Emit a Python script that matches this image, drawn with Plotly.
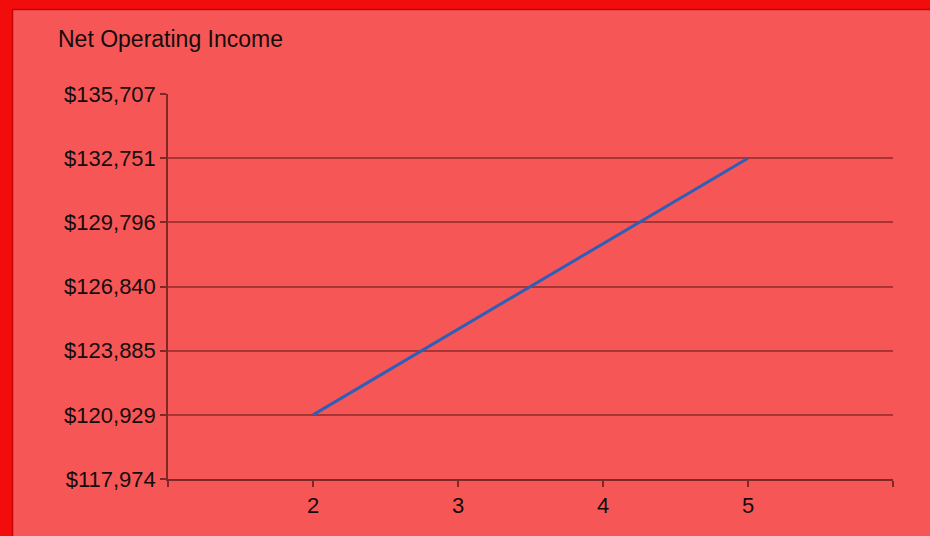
import plotly.graph_objects as go

# Net operating income by year
years = [2, 3, 4, 5]
noi = [120929, 124870, 128810, 132751]

# Value-axis ticks
y_ticks = [117974, 120929, 123885, 126840, 129796, 132751, 135707]
y_tick_text = ["$117,974", "$120,929", "$123,885", "$126,840", "$129,796", "$132,751", "$135,707"]
x_ticks = [1, 2, 3, 4, 5, 6]
x_tick_text = ["", "2", "3", "4", "5", ""]

W, H = 930, 536
ML, MR, MT, MB = 168, 37, 94, 57
PW, PH = W - ML - MR, H - MT - MB


def px_x(px):
    return (px - ML) / PW


def px_y(py):
    return (H - MB - py) / PH


FONT = "Liberation Sans, Arial, sans-serif"
TEXT = "#140C0C"
BG = "#F75656"
BORDER = "#F20C0C"
EDGE = "#C40404"
GRID = "#A83535"
AXIS = "#7E2828"

fig = go.Figure()
fig.add_trace(go.Scatter(
    x=years, y=noi, mode="lines",
    line=dict(color="#2E5FB8", width=3),
    hoverinfo="x+y", showlegend=False,
))

shapes = [
    # frame along top and left
    dict(type="rect", xref="paper", yref="paper", x0=px_x(0), x1=px_x(W), y0=px_y(9), y1=px_y(0),
         fillcolor=BORDER, line=dict(width=0), layer="below"),
    dict(type="rect", xref="paper", yref="paper", x0=px_x(0), x1=px_x(12), y0=px_y(H), y1=px_y(0),
         fillcolor=BORDER, line=dict(width=0), layer="below"),
    dict(type="line", xref="paper", yref="paper", x0=px_x(12), x1=px_x(W), y0=px_y(9.5), y1=px_y(9.5),
         line=dict(color=EDGE, width=1.5), layer="below"),
    dict(type="line", xref="paper", yref="paper", x0=px_x(12.5), x1=px_x(12.5), y0=px_y(H), y1=px_y(9.5),
         line=dict(color=EDGE, width=1.5), layer="below"),
]

fig.update_layout(
    width=W, height=H,
    margin=dict(l=ML, r=MR, t=MT, b=MB, pad=0),
    paper_bgcolor=BG, plot_bgcolor=BG,
    font=dict(family=FONT, size=22, color=TEXT),
    shapes=shapes,
    annotations=[dict(
        text="Net Operating Income", xref="paper", yref="paper",
        x=px_x(56), y=px_y(39), xanchor="left", yanchor="middle",
        showarrow=False, font=dict(family=FONT, size=23, color=TEXT),
    )],
    xaxis=dict(
        range=[1, 6], tickmode="array", tickvals=x_ticks, ticktext=x_tick_text,
        showgrid=False, zeroline=False,
        showline=True, linecolor=AXIS, linewidth=1.5,
        ticks="outside", ticklen=6, tickcolor=AXIS, tickwidth=1.5,
        tickfont=dict(family=FONT, size=22, color=TEXT),
    ),
    yaxis=dict(
        range=[y_ticks[0], y_ticks[-1]], tickmode="array", tickvals=y_ticks, ticktext=y_tick_text,
        showgrid=True, gridcolor=GRID, gridwidth=1.5, zeroline=False,
        showline=True, linecolor=AXIS, linewidth=1.5,
        ticks="outside", ticklen=6, tickcolor=AXIS, tickwidth=1.5,
        tickfont=dict(family=FONT, size=22, color=TEXT),
    ),
)

fig.write_html("out.html")
